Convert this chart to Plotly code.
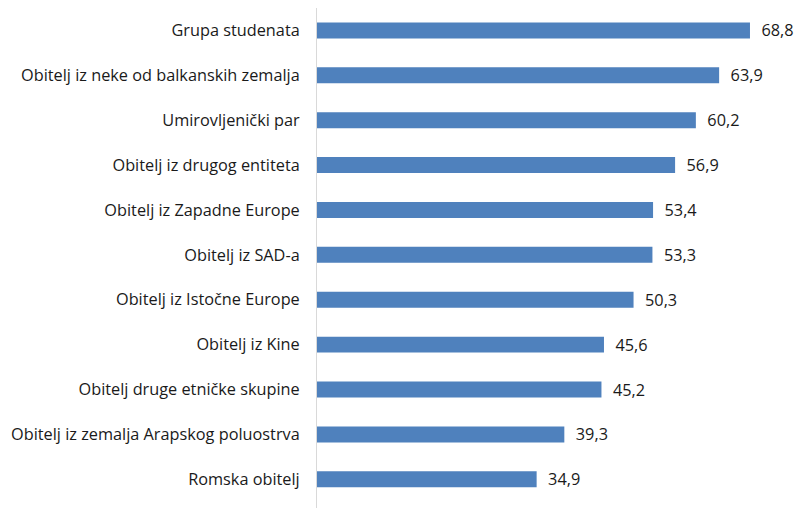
import plotly.graph_objects as go

categories = [
    "Grupa studenata",
    "Obitelj iz neke od balkanskih zemalja",
    "Umirovljenički par",
    "Obitelj iz drugog entiteta",
    "Obitelj iz Zapadne Europe",
    "Obitelj iz SAD-a",
    "Obitelj iz Istočne Europe",
    "Obitelj iz Kine",
    "Obitelj druge etničke skupine",
    "Obitelj iz zemalja Arapskog poluostrva",
    "Romska obitelj",
]
values = [68.8, 63.9, 60.2, 56.9, 53.4, 53.3, 50.3, 45.6, 45.2, 39.3, 34.9]
value_labels = ["\u00a0\u00a0" + f"{v:.1f}".replace(".", ",") for v in values]

FONT = "Open Sans"
FS = 16.3
fig = go.Figure(go.Bar(
    x=values,
    y=categories,
    orientation="h",
    width=0.356,
    marker=dict(color="#4F81BD", line=dict(width=0)),
    text=value_labels,
    textposition="outside",
    constraintext="none",
    textfont=dict(family=FONT, size=FS, color="#1a1a1a"),
    cliponaxis=False,
    hoverinfo="skip",
))

fig.update_layout(
    width=795, height=508,
    margin=dict(l=317, r=6, t=8, b=0, autoexpand=False),
    paper_bgcolor="white",
    plot_bgcolor="white",
    showlegend=False,
    font=dict(family=FONT, size=FS, color="#1a1a1a"),
)
fig.update_xaxes(range=[0, 75], visible=False, showgrid=False, zeroline=False,
                 automargin=False)
fig.update_yaxes(
    range=[10.64, -0.5],
    automargin=False,
    showgrid=False,
    zeroline=False,
    showline=True,
    linecolor="#d9d9d9",
    linewidth=1,
    ticks="",
    ticklabelstandoff=13,
    tickfont=dict(family=FONT, size=FS, color="#1a1a1a"),
)

fig.write_html(
    "out.html",
    config={"displayModeBar": False, "staticPlot": True},
    post_script="document.body.style.margin='0';document.body.style.overflow='hidden';",
)
